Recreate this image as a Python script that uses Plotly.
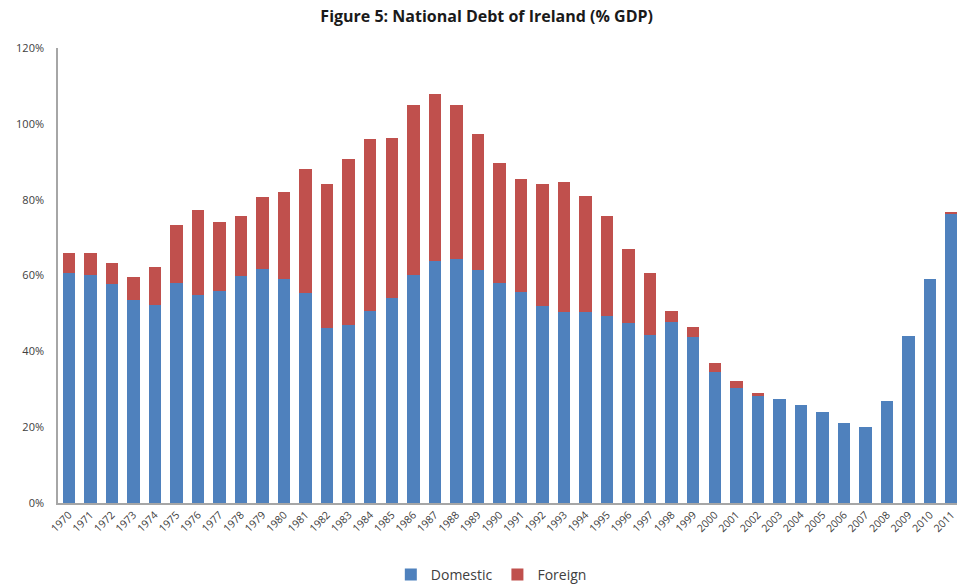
import plotly.graph_objects as go

years = [str(y) for y in range(1970, 2012)]
domestic = [60.7, 60.1, 57.8, 53.5, 52.2, 57.9, 54.9, 55.8, 59.9, 61.6,
            59.0, 55.3, 46.1, 47.0, 50.7, 54.1, 60.1, 63.7, 64.3, 61.4,
            58.0, 55.6, 52.0, 50.5, 50.4, 49.2, 47.4, 44.3, 47.7, 43.7,
            34.6, 30.3, 28.3, 27.3, 25.8, 24.0, 21.0, 20.0, 27.0, 44.0,
            59.0, 76.3]
total = [66.0, 66.0, 63.2, 59.5, 62.3, 73.2, 77.4, 74.1, 75.7, 80.8,
         82.0, 88.2, 84.1, 90.8, 96.0, 96.3, 104.9, 107.9, 104.9, 97.2,
         89.6, 85.4, 84.1, 84.7, 81.0, 75.7, 67.1, 60.7, 50.7, 46.5,
         36.8, 32.3, 28.9, 27.3, 25.8, 24.0, 21.0, 20.0, 27.0, 44.0,
         59.0, 76.7]
foreign = [round(t - d, 1) for t, d in zip(total, domestic)]
y_ticks = [0, 20, 40, 60, 80, 100, 120]
y_tick_labels = [f"{v}%" for v in y_ticks]

font_family = "Open Sans, Liberation Sans, sans-serif"

fig = go.Figure()
fig.add_trace(go.Bar(x=years, y=domestic, name="Domestic",
                     marker=dict(color="#4F81BD", line=dict(width=0))))
fig.add_trace(go.Bar(x=years, y=foreign, name="Foreign",
                     marker=dict(color="#C0504D", line=dict(width=0))))

fig.update_layout(
    barmode="stack",
    bargap=0.42,
    width=958, height=584,
    margin=dict(l=58, r=1, t=48, b=81, autoexpand=False),
    paper_bgcolor="white",
    plot_bgcolor="white",
    title=dict(text="<b>Figure 5: National Debt of Ireland (% GDP)</b>",
               x=0.508, xanchor="center", y=0.972, yanchor="middle",
               font=dict(family=font_family, size=16, color="#1a1a1a")),
    font=dict(family=font_family, color="#404040"),
    showlegend=True,
    legend=dict(orientation="h", x=0.482, xanchor="center", y=-0.158,
                yanchor="middle", font=dict(size=14, color="#404040"),
                traceorder="normal", itemwidth=30),
    xaxis=dict(type="category", range=[-0.5, 41.25], showgrid=False,
               showline=True, linecolor="#a6a6a6", linewidth=1.5,
               tickangle=-45, tickfont=dict(size=10.5, color="#404040"),
               ticks="", fixedrange=True, automargin=False),
    yaxis=dict(range=[0, 120], tickvals=y_ticks, ticktext=y_tick_labels,
               showgrid=False, showline=True, linecolor="#a6a6a6",
               linewidth=1.5, ticks="", zeroline=False, automargin=False,
               ticklabelstandoff=10,
               tickfont=dict(size=11, color="#404040")),
)

fig.write_html("out.html")
